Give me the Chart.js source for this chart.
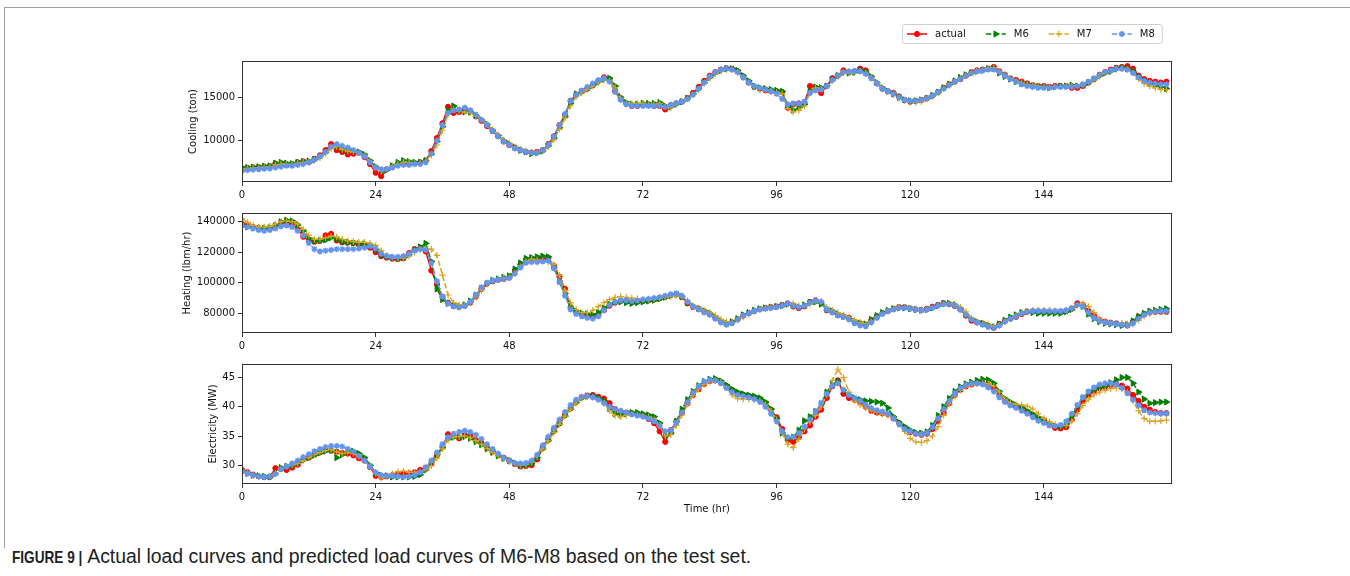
<!DOCTYPE html>
<html>
<head>
<meta charset="utf-8">
<script src="https://cdn.jsdelivr.net/npm/chart.js@4.4.1/dist/chart.umd.min.js"></script>
<style>
  html, body { margin: 0; padding: 0; background: #fff; }
  body { width: 1350px; height: 576px; position: relative; overflow: hidden; }
  canvas { position: absolute; left: 0; }
  #frame { position: absolute; left: 4px; top: 7px; width: 1400px; height: 540px;
           border-left: 1px solid #a0a0a0; border-top: 1px solid #a0a0a0; }
  #caption { position: absolute; left: 12px; top: 545px; white-space: nowrap;
             font: 19.4px "Liberation Sans", Arial, sans-serif; color: #222; }
  #caption b { display: inline-block; font-size: 17px; transform: scaleX(0.8); transform-origin: 0 50%;
               margin-right: -17px; }
</style>
</head>
<body>
<div id="frame"></div>
<canvas id="cool" width="1190" height="195" style="top:15px"></canvas>
<canvas id="heat" width="1190" height="150" style="top:203px"></canvas>
<canvas id="elec" width="1190" height="161" style="top:354px"></canvas>
<div id="caption"><b>FIGURE 9 |</b> Actual load curves and predicted load curves of M6-M8 based on the test set.</div>
<script>
// x axis: hour index of the test set
const hours = Array.from({ length: 167 }, (_, i) => i);
const xTickVals = [0, 24, 48, 72, 96, 120, 144];

// Cooling (ton), one row per day
const coolActual = [
  6800, 6850, 6900, 6950, 7000, 7050, 7350, 7300, 7200, 7300, 7500, 7600, 7500, 7900, 8300, 8900, 9600, 8900, 8700, 8400, 8500, 8600, 8100, 7300,
  6300, 5900, 6700, 7000, 7300, 7400, 7300, 7400, 7500, 7700, 8800, 10300, 12000, 13900, 13200, 13300, 13700, 13400, 12800, 12300, 11700, 11100, 10500, 9900,
  9500, 9200, 8900, 8700, 8600, 8700, 8900, 9600, 10500, 11800, 13000, 14600, 15300, 15700, 16000, 16400, 16900, 17300, 17100, 15700, 14900, 14300, 14000, 14000,
  14100, 14100, 14000, 14000, 13600, 14100, 14300, 14500, 14900, 15500, 16200, 16900, 17500, 17900, 18200, 18350, 18300, 18000, 17400, 16700, 16200, 16000, 15800, 15700,
  15700, 15600, 13800, 14200, 14300, 14400, 16300, 16100, 15500, 16300, 17200, 17500, 18100, 17900, 18000, 18300, 18100, 17300, 16600, 16000, 15700, 15500, 15100, 14700,
  14500, 14600, 14700, 14900, 15200, 15600, 16100, 16500, 16800, 17100, 17500, 17900, 18100, 18200, 18300, 18500, 18000, 17600, 17200, 17000, 16800, 16600, 16400, 16300,
  16300, 16200, 16300, 16300, 16300, 16100, 16100, 16300, 16700, 17100, 17600, 17900, 18200, 18400, 18500, 18600, 18300, 17500, 17100, 16900, 16800, 16700, 16800
];
const coolM6 = [
  6900, 6900, 6950, 7000, 7050, 7100, 7400, 7500, 7400, 7350, 7500, 7600, 7650, 7800, 8200, 8700, 9300, 9300, 9000, 8900, 8800, 8700, 8400, 7700,
  7000, 6500, 6600, 7100, 7500, 7700, 7600, 7500, 7500, 7700, 8500, 9900, 11600, 13500, 14000, 13500, 13300, 13300, 12900, 12400, 11900, 11200, 10600, 10000,
  9600, 9200, 8900, 8700, 8500, 8600, 8800, 9400, 10300, 11500, 12800, 14300, 15400, 15600, 16000, 16400, 16800, 17100, 17200, 16300, 15000, 14400, 14200, 14200,
  14300, 14300, 14300, 14400, 14000, 13900, 14200, 14500, 14900, 15400, 16000, 16700, 17300, 17800, 18100, 18300, 18300, 18100, 17500, 16900, 16300, 16100, 16000, 15900,
  15800, 15700, 14000, 13500, 13800, 14200, 15700, 16200, 16100, 16300, 17000, 17500, 17900, 17800, 17900, 18100, 17900, 17400, 16700, 16100, 15700, 15400, 15000, 14700,
  14600, 14600, 14700, 14900, 15200, 15600, 16100, 16500, 16900, 17300, 17600, 17800, 18000, 18100, 18300, 18300, 17800, 17400, 17100, 16800, 16600, 16500, 16300, 16200,
  16200, 16100, 16200, 16300, 16300, 16400, 16300, 16400, 16700, 17100, 17500, 17800, 18000, 18300, 18400, 18300, 18000, 17400, 16900, 16600, 16400, 16200, 16000
];
const coolM7 = [
  6700, 6800, 6850, 6900, 6950, 7000, 7200, 7300, 7300, 7250, 7400, 7500, 7600, 7700, 8000, 8500, 9100, 9300, 9000, 8800, 8700, 8600, 8300, 7600,
  6900, 6500, 6700, 7100, 7300, 7500, 7500, 7400, 7400, 7600, 8300, 9500, 11200, 13000, 13600, 13400, 13300, 13200, 12800, 12400, 11900, 11300, 10700, 10100,
  9700, 9300, 9000, 8800, 8700, 8700, 8800, 9300, 10100, 11300, 12600, 14000, 15100, 15500, 15900, 16300, 16700, 17000, 16900, 16100, 14900, 14400, 14300, 14300,
  14300, 14200, 14200, 14300, 13900, 13800, 14200, 14500, 14800, 15300, 15900, 16600, 17200, 17700, 18000, 18200, 18200, 17900, 17300, 16700, 16200, 15900, 15800, 15700,
  15600, 15400, 13700, 13300, 13500, 14000, 15500, 16100, 16000, 16300, 16900, 17400, 17800, 17800, 17800, 18000, 17800, 17300, 16700, 16100, 15700, 15300, 14900, 14600,
  14400, 14400, 14500, 14800, 15100, 15500, 16000, 16400, 16800, 17200, 17500, 17800, 18000, 18200, 18400, 18400, 18000, 17600, 17200, 16900, 16700, 16500, 16400, 16300,
  16200, 16200, 16200, 16200, 16300, 16300, 16300, 16400, 16700, 17000, 17400, 17800, 18000, 18200, 18300, 18200, 17800, 17100, 16600, 16300, 16100, 15900, 15900
];
const coolM8 = [
  6500, 6600, 6650, 6700, 6750, 6800, 6900, 7000, 7100, 7100, 7200, 7300, 7500, 7800, 8200, 8700, 9300, 9600, 9400, 9200, 8900, 8600, 8200, 7500,
  6900, 6700, 6700, 6900, 7100, 7200, 7200, 7300, 7300, 7500, 8500, 10000, 11800, 13200, 13500, 13600, 13800, 13500, 13000, 12400, 11800, 11100, 10500, 9900,
  9500, 9100, 8900, 8700, 8600, 8600, 8900, 9500, 10500, 11800, 13100, 14600, 15300, 15800, 16200, 16600, 17000, 17200, 16800, 15600, 14700, 14200, 14000, 14000,
  14000, 14000, 14000, 14000, 13900, 14100, 14300, 14500, 14800, 15300, 16000, 16700, 17400, 17900, 18200, 18300, 18200, 17900, 17300, 16700, 16300, 16100, 15900, 15700,
  15400, 14800, 14200, 14300, 14300, 14500, 15500, 15800, 15900, 16300, 17000, 17500, 17900, 18000, 18000, 18000, 17700, 17200, 16600, 16000, 15700, 15400, 15000, 14700,
  14600, 14600, 14700, 14900, 15200, 15600, 16000, 16400, 16800, 17100, 17500, 17800, 18000, 18100, 18200, 18200, 17900, 17500, 17100, 16800, 16500, 16300, 16200, 16100,
  16100, 16100, 16200, 16200, 16200, 16200, 16300, 16500, 16800, 17200, 17600, 17900, 18100, 18300, 18300, 18200, 17800, 17300, 16900, 16700, 16600, 16500, 16500
];
const coolTicks = [10000, 15000];

// Heating (lbm/hr)
const heatActual = [
  138500, 137500, 136500, 135800, 135500, 135500, 136500, 139300, 139500, 138500, 135000, 130200, 127500, 126900, 127500, 131000, 132000, 127700, 126500, 126300, 126000, 125000, 124500, 123000,
  120000, 117500, 116500, 115800, 115500, 116000, 119500, 122000, 122500, 120500, 108000, 99000, 90500, 87000, 85000, 84300, 85000, 87000, 91000, 96000, 99500, 101000, 102000, 102500,
  103500, 108000, 112000, 115000, 115500, 115000, 115500, 116000, 111000, 104000, 96000, 84000, 81000, 79500, 78800, 77800, 79000, 82000, 85000, 87000, 88000, 88300, 87500, 88000,
  88200, 88500, 89000, 89700, 90800, 92000, 92500, 90500, 86500, 84300, 83000, 81300, 79500, 77000, 74500, 73000, 74000, 76000, 78500, 80000, 81500, 82800, 83500, 84000,
  84500, 85500, 86500, 84500, 83500, 84500, 87500, 88500, 87000, 82000, 81000, 79000, 78000, 77000, 74500, 73400, 72500, 75500, 78000, 80000, 81500, 83000, 84000, 84000,
  83200, 82500, 82000, 83000, 84300, 85500, 86600, 86000, 84800, 82500, 78500, 75200, 74000, 73300, 71800, 70500, 73000, 75000, 76500, 77700, 79500, 81000, 81300, 81300,
  81300, 81000, 81000, 81000, 81500, 83000, 86500, 85500, 81500, 78500, 75500, 74500, 73800, 73400, 72500, 72000, 74500, 77700, 79500, 80500, 80900, 81000, 80900
];
const heatM6 = [
  137000, 136500, 136000, 135500, 135500, 136000, 137500, 140000, 141000, 140500, 138000, 134000, 129000, 127500, 127500, 128000, 129500, 128500, 127000, 126500, 126000, 125500, 125500, 124500,
  121500, 118000, 117000, 116500, 116000, 116500, 118500, 121500, 123500, 125800, 114000, 96000, 89000, 86500, 85000, 84500, 85500, 88000, 92000, 96500, 99500, 101500, 102500, 103500,
  104500, 109000, 113000, 116000, 116500, 117000, 117500, 117000, 110000, 101000, 93000, 84500, 81500, 80000, 79500, 79000, 80500, 83500, 86000, 87500, 87500, 87000, 86500, 87000,
  87500, 88000, 88500, 89500, 90500, 91500, 92500, 91000, 87000, 84500, 83000, 81500, 80000, 77500, 75000, 73500, 74500, 76500, 79000, 80500, 82000, 83000, 83500, 84000,
  84500, 85000, 86000, 85000, 84000, 85500, 87000, 87500, 86000, 82500, 81500, 79500, 78000, 76500, 74500, 73500, 73000, 76000, 78500, 80500, 82000, 83000, 83500, 83500,
  83000, 82500, 82000, 82500, 83500, 85000, 86500, 86500, 85500, 83000, 79000, 76000, 74500, 73500, 72000, 71000, 73000, 75500, 77500, 79000, 80500, 81000, 80500, 80000,
  80000, 80000, 80000, 80000, 81000, 82500, 85500, 84500, 79500, 76500, 74500, 73500, 73000, 72500, 72000, 72500, 75000, 78000, 80000, 81500, 82000, 82500, 83000
];
const heatM7 = [
  142000, 139500, 137500, 136500, 136500, 137000, 138500, 140000, 140500, 140000, 138500, 135000, 131000, 128500, 128500, 129500, 130500, 130000, 128500, 127500, 127000, 126500, 126500, 126000,
  124500, 121000, 118000, 116500, 116000, 116000, 117500, 120000, 122000, 122500, 122000, 118000, 105000, 92000, 87000, 85500, 85500, 87000, 90500, 95000, 99000, 101500, 102500, 103000,
  103500, 106000, 110500, 114000, 115500, 115000, 114500, 113500, 112000, 105000, 95000, 87000, 82500, 80500, 80500, 82000, 84500, 87000, 89000, 90500, 91000, 90500, 90000, 89500,
  89000, 89000, 89500, 90000, 90500, 91000, 91500, 91000, 88500, 85000, 83500, 82000, 80500, 78500, 76000, 74500, 74000, 75500, 77500, 79500, 81000, 82500, 83500, 84000,
  84500, 85000, 86000, 86500, 85000, 84500, 86000, 87500, 88000, 84000, 82000, 80500, 79000, 77500, 75500, 74000, 73000, 74500, 77000, 79500, 81500, 83000, 84000, 84000,
  83500, 83000, 82500, 82500, 83500, 85000, 86000, 86500, 86000, 84000, 81000, 77000, 74500, 73500, 72500, 71500, 72000, 74500, 76500, 78500, 80500, 81500, 82000, 82000,
  82000, 82000, 81500, 81500, 82000, 83000, 85000, 86500, 84500, 80500, 76500, 74500, 74000, 73500, 73500, 73000, 73000, 75500, 78000, 80000, 81000, 81000, 81000
];
const heatM8 = [
  137500, 136500, 135500, 134500, 134000, 134500, 135500, 137000, 137500, 136500, 134000, 131000, 126000, 122000, 120500, 121000, 121500, 122000, 122000, 122000, 122000, 122500, 123000, 124000,
  122500, 119000, 117500, 117000, 117000, 117500, 119000, 121000, 122000, 121500, 113000, 101000, 91000, 86500, 84500, 84000, 85000, 87500, 92000, 97000, 100000, 101500, 102000, 102500,
  103000, 106000, 110000, 113000, 113500, 113500, 114000, 114500, 109500, 100500, 91500, 82500, 79500, 78000, 77000, 76500, 78000, 82000, 85500, 87500, 88500, 88500, 88000, 88500,
  89000, 89500, 90000, 90500, 91500, 92500, 93000, 91500, 87500, 84500, 82500, 80500, 79000, 76500, 74000, 72500, 73500, 76000, 78500, 80000, 81500, 82500, 83000, 83500,
  84000, 85000, 86500, 85000, 84000, 85000, 87000, 88500, 87500, 82500, 80500, 78500, 77500, 76000, 73500, 72000, 71500, 74000, 77000, 79500, 81500, 82500, 83500, 83500,
  83000, 82500, 82000, 82500, 83500, 85000, 86000, 86000, 85000, 82500, 79000, 76000, 74000, 72500, 71000, 70500, 72000, 74500, 76500, 78000, 80000, 81000, 81500, 81500,
  81500, 81500, 81500, 81500, 82000, 83500, 85500, 84500, 80500, 77000, 75000, 74000, 73500, 73000, 72500, 72000, 73500, 76500, 79000, 80500, 81000, 81500, 81500
];
const heatTicks = [80000, 100000, 120000, 140000];

// Electricity (MW)
const elecActual = [
  29.2, 28.8, 28.4, 28.1, 28.0, 28.0, 29.5, 29.4, 29.2, 29.6, 30.1, 31.0, 31.3, 31.8, 32.2, 32.6, 32.5, 32.3, 32.1, 32.0, 31.7, 31.2, 30.8, 29.7,
  28.2, 28.0, 28.1, 28.3, 28.5, 28.6, 28.6, 28.8, 29.2, 29.6, 30.3, 31.7, 33.2, 35.3, 35.0, 34.6, 35.2, 35.0, 34.3, 33.8, 33.0, 32.4, 31.8, 31.3,
  30.8, 30.2, 29.8, 29.9, 30.0, 31.0, 33.0, 34.5, 36.0, 37.3, 38.6, 39.8, 40.8, 41.6, 41.9, 42.0, 41.7, 41.4, 40.6, 39.6, 39.2, 39.0, 38.9, 38.7,
  38.5, 37.9, 37.2, 35.8, 34.0, 36.0, 37.5, 39.0, 40.6, 42.0, 43.0, 43.9, 44.4, 44.5, 44.1, 43.4, 42.8, 42.3, 42.0, 41.8, 41.6, 41.2, 40.6, 39.5,
  38.2, 36.2, 34.3, 34.0, 34.8, 35.8, 36.8, 38.3, 39.5, 41.5, 43.5, 44.5, 42.2, 41.5, 41.2, 40.8, 40.0, 39.3, 39.0, 38.9, 38.7, 38.0, 37.2, 36.4,
  35.7, 35.4, 35.2, 35.4, 36.2, 37.6, 39.0, 40.6, 42.0, 42.9, 43.5, 43.8, 44.0, 44.0, 43.7, 43.3, 42.0, 41.0, 40.4, 40.0, 39.6, 39.1, 38.6, 38.0,
  37.7, 37.0, 36.4, 36.3, 36.5, 37.8, 39.5, 41.0, 42.0, 42.7, 43.2, 43.4, 43.7, 43.9, 43.6, 43.1, 42.0, 41.0, 40.0, 39.5, 39.1, 38.9, 38.9
];
const elecM6 = [
  29.0, 28.6, 28.3, 28.2, 28.1, 28.0, 28.6, 29.6, 29.8, 30.0, 30.4, 30.9, 31.3, 31.7, 32.1, 32.4, 32.6, 31.3, 31.8, 32.5, 32.4, 32.0, 31.3, 30.0,
  28.7, 28.3, 28.2, 28.0, 28.0, 28.0, 28.0, 28.1, 28.4, 29.2, 30.5, 31.8, 33.0, 34.5, 34.8, 34.8, 34.9, 34.6, 34.0, 33.5, 32.8, 32.2, 31.6, 31.2,
  30.8, 30.4, 30.0, 30.0, 30.3, 31.3, 32.8, 34.2, 35.7, 37.0, 38.4, 39.6, 40.7, 41.5, 41.8, 41.8, 41.5, 41.0, 39.7, 38.8, 38.6, 38.8, 39.0, 39.0,
  38.8, 38.6, 38.3, 37.2, 35.0, 35.5, 37.5, 39.6, 41.2, 42.6, 43.6, 44.3, 44.7, 44.8, 44.4, 43.7, 43.0, 42.5, 42.2, 42.0, 41.8, 41.5, 40.8, 39.6,
  38.0, 35.5, 34.6, 34.8, 36.0, 37.6, 38.3, 39.2, 40.5, 42.5, 43.8, 44.3, 42.8, 42.0, 41.5, 41.2, 41.0, 40.9, 40.8, 40.6, 39.8, 38.3, 37.3, 36.6,
  36.0, 35.6, 35.5, 35.7, 36.8, 38.5, 40.0, 41.4, 42.6, 43.4, 43.9, 44.2, 44.5, 44.7, 44.6, 44.0, 42.6, 41.4, 40.8, 40.3, 39.8, 39.3, 38.7, 38.1,
  37.5, 37.0, 36.7, 36.6, 37.0, 38.4, 40.0, 41.5, 42.4, 43.0, 43.3, 43.6, 44.1, 44.6, 45.0, 45.0, 44.0, 42.5, 41.3, 40.6, 40.7, 40.8, 40.8
];
const elecM7 = [
  29.0, 28.7, 28.3, 28.1, 28.0, 28.1, 28.6, 29.4, 29.8, 30.0, 30.3, 30.8, 31.3, 31.8, 32.2, 32.5, 32.7, 32.3, 32.0, 32.2, 32.0, 31.5, 30.8, 29.8,
  28.6, 27.8, 28.2, 28.6, 28.9, 29.0, 28.8, 28.8, 28.9, 29.2, 29.9, 31.2, 32.8, 34.3, 34.8, 34.9, 35.0, 34.7, 34.2, 33.6, 32.9, 32.2, 31.6, 31.1,
  30.6, 30.2, 30.0, 30.1, 30.5, 31.5, 32.8, 34.2, 35.6, 37.0, 38.4, 39.6, 40.6, 41.4, 41.7, 41.6, 41.2, 40.6, 39.3, 38.5, 38.3, 38.5, 38.7, 38.6,
  38.4, 38.3, 37.8, 36.8, 35.0, 35.2, 36.8, 38.6, 40.4, 41.9, 43.0, 43.8, 44.3, 44.5, 44.2, 43.2, 42.0, 41.4, 41.3, 41.3, 41.2, 41.0, 40.4, 39.3,
  37.8, 35.5, 33.6, 33.0, 34.5, 36.2, 37.4, 38.5, 40.0, 42.0, 44.5, 46.4, 45.0, 42.5, 41.0, 40.3, 39.8, 39.3, 39.0, 38.7, 38.5, 38.0, 37.0, 35.8,
  34.6, 34.0, 33.9, 34.2, 35.0, 36.6, 38.5, 40.5, 41.8, 42.8, 43.4, 43.7, 43.9, 44.0, 43.9, 43.5, 42.5, 41.3, 40.6, 40.4, 40.3, 40.1, 39.6, 38.8,
  38.0, 37.4, 37.0, 36.8, 36.8, 37.5, 38.8, 40.2, 41.3, 42.0, 42.5, 42.8, 43.1, 43.2, 43.0, 42.5, 41.0, 39.3, 38.0, 37.5, 37.5, 37.6, 37.7
];
const elecM8 = [
  28.9, 28.6, 28.3, 28.1, 28.0, 28.1, 28.5, 29.3, 29.8, 30.3, 30.8, 31.4, 31.9, 32.4, 32.8, 33.1, 33.3, 33.3, 33.2, 32.8, 32.3, 31.6, 30.8, 29.8,
  28.8, 28.3, 28.2, 28.2, 28.1, 28.0, 28.1, 28.3, 28.8, 29.6, 30.8, 32.2, 33.6, 34.8, 35.4, 35.7, 35.9, 35.7, 35.2, 34.5, 33.6, 32.8, 32.0, 31.3,
  30.8, 30.4, 30.3, 30.4, 30.8, 31.8, 33.4, 34.9, 36.4, 37.8, 39.1, 40.3, 41.2, 41.7, 41.8, 41.6, 41.2, 40.6, 40.0, 39.6, 39.3, 39.0, 38.7, 38.5,
  38.3, 38.0, 37.5, 36.8, 35.8, 36.0, 37.3, 39.0, 40.8, 42.4, 43.5, 44.3, 44.6, 44.5, 44.0, 43.2, 42.5, 42.0, 41.8, 41.6, 41.3, 40.8, 40.0, 38.8,
  37.5, 35.8, 34.8, 34.8, 35.5, 36.6, 37.8, 39.2, 40.6, 42.2, 43.6, 44.0, 42.9, 42.0, 41.5, 41.0, 40.4, 39.8, 39.4, 39.2, 38.8, 38.0, 37.0, 36.2,
  35.8, 35.4, 35.3, 35.5, 36.5, 38.0, 39.6, 41.0, 42.3, 43.2, 43.7, 44.0, 44.0, 43.8, 43.3, 42.6, 41.6, 40.8, 40.2, 39.8, 39.3, 38.8, 38.2, 37.6,
  37.2, 36.8, 36.7, 36.9, 37.5, 38.8, 40.3, 41.6, 42.6, 43.3, 43.8, 44.0, 44.0, 43.8, 43.2, 42.3, 41.2, 40.2, 39.4, 39.0, 38.9, 38.8, 38.8
];
const elecTicks = [30, 35, 40, 45];

const seriesNames = ['actual', 'M6', 'M7', 'M8'];

Chart.defaults.font.family = '"DejaVu Sans", sans-serif';
Chart.defaults.font.size = 10;
Chart.defaults.color = '#111';

// line / marker look per series (matplotlib style)
const looks = {
  actual: { color: '#ff0000', dash: [], point: 'circle', r: 2.6, rot: 0, pbw: 1, order: 3 },
  M6: { color: '#008000', dash: [5.5, 2.4], point: 'triangle', r: 3.5, rot: 90, pbw: 1, order: 2 },
  M7: { color: '#daa520', dash: [5.5, 2.4], point: 'cross', r: 3.2, rot: 0, pbw: 1.2, order: 1 },
  M8: { color: '#6495ed', dash: [5.5, 2.4], point: 'star', r: 3.0, rot: 0, pbw: 1.5, order: 0 }
};

// axes frame on all four sides
const boxFrame = {
  id: 'boxFrame',
  afterDatasetsDraw(chart) {
    const a = chart.chartArea, c = chart.ctx;
    c.save();
    c.strokeStyle = '#333';
    c.lineWidth = 1;
    c.strokeRect(Math.round(a.left) + 0.5, Math.round(a.top) + 0.5,
                 Math.round(a.right - a.left) - 1, Math.round(a.bottom - a.top) - 1);
    c.restore();
  }
};

// figure legend in the top right corner (drawn on the cooling canvas)
const figLegend = {
  id: 'figLegend',
  afterDraw(chart) {
    const c = chart.ctx;
    const cy = 19;
    c.save();
    c.font = '10px "DejaVu Sans"';
    let tx = 935;
    const items = [];
    seriesNames.forEach(n => { items.push({ n, tx }); tx += c.measureText(n).width + 48; });
    const last = items[items.length - 1];
    const left = 902.5, right = last.tx + c.measureText(last.n).width + 7.5;
    c.beginPath();
    c.roundRect(left, cy - 9.5, right - left, 19, 2.5);
    c.fillStyle = 'rgba(255,255,255,0.8)';
    c.fill();
    c.strokeStyle = '#d0d0d0';
    c.lineWidth = 1;
    c.stroke();
    items.forEach(({ n, tx }) => {
      const lk = looks[n];
      c.strokeStyle = lk.color;
      c.fillStyle = lk.color;
      c.lineWidth = 1.5;
      c.setLineDash(lk.dash);
      c.beginPath();
      c.moveTo(tx - 28, cy);
      c.lineTo(tx - 8, cy);
      c.stroke();
      c.setLineDash([]);
      c.lineWidth = lk.pbw;
      Chart.helpers.drawPoint(c, { pointStyle: lk.point, radius: lk.r, rotation: lk.rot, borderWidth: lk.pbw }, tx - 18, cy);
      c.fillStyle = '#111';
      c.textBaseline = 'middle';
      c.fillText(n, tx, cy + 0.5);
    });
    c.restore();
  }
};

function makePanel(id, values, yMin, yMax, yTicks, yTitle, lay, xTitle, extra) {
  const datasets = seriesNames.map((n, k) => {
    const lk = looks[n];
    return {
      label: n,
      data: values[k].map((v, i) => ({ x: hours[i], y: v })),
      borderColor: lk.color,
      backgroundColor: lk.color,
      borderWidth: 1.5,
      borderDash: lk.dash,
      pointStyle: lk.point,
      pointRadius: lk.r,
      pointRotation: lk.rot,
      pointBorderWidth: lk.pbw,
      pointBackgroundColor: lk.color,
      pointBorderColor: lk.color,
      order: lk.order,
      fill: false
    };
  });
  return new Chart(document.getElementById(id).getContext('2d'), {
    type: 'line',
    data: { datasets },
    options: {
      responsive: false,
      animation: false,
      devicePixelRatio: 1,
      events: [],
      layout: { padding: { left: lay.padLeft, right: 18, top: lay.padTop, bottom: 0 } },
      plugins: { legend: { display: false }, tooltip: { enabled: false } },
      scales: {
        x: {
          type: 'linear',
          min: 0,
          max: 167,
          afterBuildTicks: s => { s.ticks = xTickVals.map(v => ({ value: v })); },
          afterFit: s => { s.height = lay.axisH; },
          ticks: { callback: v => String(v), padding: 3, maxRotation: 0, autoSkip: false, color: '#111' },
          grid: { display: true, drawOnChartArea: false, drawTicks: true, tickLength: 4, tickColor: '#333' },
          border: { display: false },
          title: { display: !!xTitle, text: xTitle || '', padding: 0, color: '#111', font: { size: 10 } }
        },
        y: {
          min: yMin,
          max: yMax,
          afterBuildTicks: s => { s.ticks = yTicks.map(v => ({ value: v })); },
          afterFit: s => { s.width = lay.axisW; },
          ticks: { callback: v => String(v), padding: 3, autoSkip: false, color: '#111' },
          grid: { display: true, drawOnChartArea: false, drawTicks: true, tickLength: 4, tickColor: '#333' },
          border: { display: false },
          title: { display: true, text: yTitle, padding: 0, color: '#111', font: { size: 10 } }
        }
      }
    },
    plugins: [boxFrame].concat(extra || [])
  });
}

makePanel('cool', [coolActual, coolM6, coolM7, coolM8], 5230, 19190, coolTicks, 'Cooling (ton)',
  { padLeft: 187, axisW: 55, padTop: 46, axisH: 28 }, null, [figLegend]);
makePanel('heat', [heatActual, heatM6, heatM7, heatM8], 67100, 145700, heatTicks, 'Heating (lbm/hr)',
  { padLeft: 181, axisW: 61, padTop: 10, axisH: 20 }, null);
makePanel('elec', [elecActual, elecM6, elecM7, elecM8], 26.8, 47.3, elecTicks, 'Electricity (MW)',
  { padLeft: 207, axisW: 35, padTop: 10, axisH: 31 }, 'Time (hr)');
</script>
</body>
</html>
